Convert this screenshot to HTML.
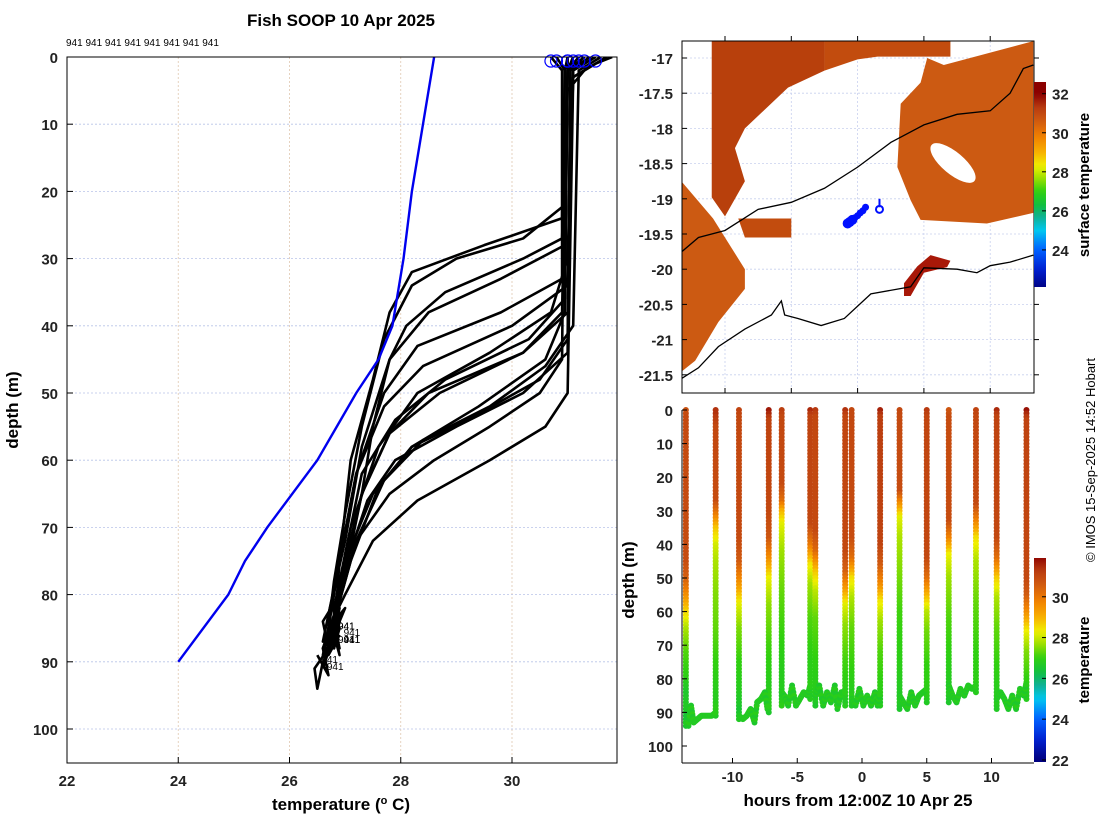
<!DOCTYPE html>
<html><head><meta charset="utf-8">
<style>
html,body{margin:0;padding:0;background:#fff;}
svg{display:block;font-family:"Liberation Sans","DejaVu Sans",sans-serif;}
.tk{font-size:15px;font-weight:bold;fill:#222;}
</style></head>
<body>
<svg id="fig" width="1100" height="820" viewBox="0 0 1100 820"></svg>
<script>
// ---------- DATA ----------
const profileTimes = [-13.6,-11.3,-9.5,-7.2,-6.2,-4.0,-3.6,-1.3,-0.8,1.4,2.9,5.0,6.7,8.8,10.4,12.7];
const profiles = [
 [[0,30.8],[2,30.95],[45,30.9],[50,30.5],[55,29.6],[60,28.6],[65,27.8],[72,27.2],[80,26.9],[84,26.6],[88,26.7],[91,26.45],[94,26.5],[90,26.6]],
 [[91,26.6],[86,26.8],[89,26.9],[85,26.8],[75,27.0],[65,27.3],[55,27.5],[45,27.8],[40,28.1],[35,28.8],[30,30.2],[27,30.9],[5,31.0],[1,31.4]],
 [[0,31.1],[2,31.0],[38,30.95],[45,30.6],[52,29.4],[58,28.2],[65,27.5],[75,27.0],[83,26.8],[88,26.6],[92,26.7],[89,26.5]],
 [[90,26.6],[85,26.9],[88,26.8],[82,26.8],[70,27.1],[58,27.6],[50,28.3],[44,29.6],[38,30.7],[30,31.0],[3,31.1],[1,31.5],[0,31.7]],
 [[0,31.2],[2,31.0],[22,30.95],[27,30.2],[30,29.0],[34,28.2],[42,27.7],[55,27.3],[68,27.0],[78,26.8],[85,26.7],[88,26.9],[84,26.8]],
 [[85,26.7],[82,26.9],[86,26.8],[75,26.9],[62,27.2],[52,27.7],[46,28.4],[40,30.0],[34,31.0],[2,31.1],[0,31.5]],
 [[0,31.3],[2,31.0],[36,30.95],[42,30.3],[48,28.8],[54,27.9],[62,27.3],[74,27.0],[84,26.8],[88,26.6],[85,26.9]],
 [[88,26.8],[83,26.9],[87,26.7],[75,27.1],[64,27.6],[58,28.2],[54,29.2],[48,30.5],[42,31.0],[2,31.05],[0,31.4]],
 [[0,31.0],[2,31.0],[38,30.9],[44,30.2],[50,28.5],[56,27.8],[65,27.3],[77,27.0],[84,26.8],[88,26.7],[86,26.9]],
 [[88,26.8],[84,26.9],[87,26.7],[72,27.2],[63,27.7],[57,28.4],[52,29.6],[46,30.6],[40,31.1],[2,31.2],[0,31.6]],
 [[0,31.0],[2,30.95],[24,30.9],[28,29.5],[32,28.2],[38,27.8],[48,27.5],[60,27.1],[75,26.9],[85,26.7],[89,26.6],[86,26.8]],
 [[87,26.7],[84,26.9],[86,26.8],[76,27.0],[66,27.4],[60,27.9],[55,29.0],[50,30.2],[44,31.0],[2,31.05],[0,31.3]],
 [[0,30.7],[2,30.9],[33,30.9],[38,29.8],[43,28.3],[50,27.7],[62,27.2],[75,26.9],[83,26.7],[87,26.6],[84,26.8]],
 [[84,26.8],[81,26.9],[83,26.7],[72,27.0],[58,27.3],[45,27.8],[38,28.5],[33,29.8],[28,30.95],[2,31.0],[0,31.1]],
 [[0,31.5],[2,31.1],[38,31.0],[44,30.2],[50,28.7],[56,27.8],[65,27.3],[76,27.0],[84,26.8],[89,26.7],[86,26.9]],
 [[86,26.8],[82,27.0],[85,26.7],[80,27.0],[72,27.5],[66,28.3],[60,29.6],[55,30.6],[50,31.0],[3,31.1],[1,31.5],[0,31.8]]
];
const climDepth = [0,5,10,20,30,40,45,50,55,60,70,75,80,90];
const climTemp  = [28.6,28.5,28.4,28.2,28.05,27.85,27.6,27.2,26.85,26.5,25.6,25.2,24.9,24.0];
const bottomTracks = [
 [[-13.6,93],[-13.4,94],[-13.2,88],[-13.0,93],[-12.7,92],[-12.4,91],[-12.0,91],[-11.6,91],[-11.3,90]],
 [[-9.5,91],[-9.2,92],[-8.9,91],[-8.6,89],[-8.3,93],[-8.1,87],[-7.8,86],[-7.5,84],[-7.3,89],[-7.2,88]],
 [[-6.2,84],[-6.0,85],[-5.7,88],[-5.4,82],[-5.1,88],[-4.8,86],[-4.5,84],[-4.2,85],[-4.0,82]],
 [[-3.6,85],[-3.3,82],[-3.0,88],[-2.7,84],[-2.4,87],[-2.1,82],[-1.9,89],[-1.6,84],[-1.3,84]],
 [[-0.8,86],[-0.5,88],[-0.2,83],[0.1,88],[0.4,85],[0.7,88],[1.0,84],[1.2,88],[1.4,84]],
 [[2.9,85],[3.2,87],[3.5,89],[3.8,84],[4.1,88],[4.4,85],[4.7,84],[5.0,83]],
 [[6.7,82],[7.0,85],[7.3,87],[7.6,83],[7.9,85],[8.2,82],[8.5,83],[8.8,82]],
 [[10.4,86],[10.7,84],[11.0,86],[11.3,89],[11.6,85],[11.9,89],[12.2,83],[12.5,85],[12.7,81]]
];
const bottomTemp = 26.7;
const shelfContour = [[115.35,-19.75],[115.6,-19.55],[116,-19.45],[116.5,-19.15],[117,-19.05],[117.5,-18.85],[118,-18.55],[118.5,-18.2],[119,-17.95],[119.5,-17.8],[120,-17.75],[120.3,-17.5],[120.5,-17.15],[120.65,-17.1]];
const coastLine = [[115.35,-21.55],[115.6,-21.4],[115.9,-21.1],[116.3,-20.85],[116.7,-20.65],[116.85,-20.45],[116.9,-20.65],[117.1,-20.7],[117.45,-20.8],[117.8,-20.7],[118.2,-20.35],[118.8,-20.25],[119.0,-19.98],[119.5,-20.0],[119.8,-20.05],[120.0,-19.95],[120.3,-19.9],[120.65,-19.8]];
const shipLon = [117.85,117.88,117.92,117.96,118.0,118.04,118.08,118.12];
const shipLat = [-19.35,-19.33,-19.3,-19.27,-19.24,-19.2,-19.17,-19.12];
const sstPatches = [
 {c:"#b8400c",p:[[115.8,-16.76],[117.5,-16.76],[117.5,-17.18],[116.95,-17.42],[116.3,-18.0],[116.15,-18.28],[116.3,-18.75],[116.0,-19.25],[115.8,-18.98]]},
 {c:"#c24c0e",p:[[117.5,-16.76],[119.4,-16.76],[119.4,-16.98],[118.3,-16.98],[118.0,-17.02],[117.5,-17.18]]},
 {c:"#cc5a12",p:[[119.3,-17.1],[120.65,-16.76],[120.65,-19.2],[119.95,-19.35],[118.95,-19.3],[118.8,-19.02],[118.6,-18.55],[118.65,-17.65],[118.95,-17.35],[119.05,-17.0]]},
 {c:"#cc5a12",p:[[115.35,-18.76],[115.82,-19.28],[116.3,-20.0],[116.3,-20.28],[115.9,-20.75],[115.55,-21.3],[115.35,-21.45]]},
 {c:"#c24c0e",p:[[116.2,-19.28],[117.0,-19.28],[117.0,-19.55],[116.3,-19.55]]},
 {c:"#a81808",p:[[118.7,-20.2],[118.9,-19.96],[119.1,-19.8],[119.4,-19.88],[119.35,-19.97],[119.0,-20.05],[118.8,-20.38],[118.7,-20.38]]}
];

// ---------- HELPERS ----------
const S="http://www.w3.org/2000/svg", svg=document.getElementById('fig');
function mk(tag,attrs,parent){const e=document.createElementNS(S,tag);for(const k in attrs)e.setAttribute(k,attrs[k]);(parent||svg).appendChild(e);return e;}
function txt(s,x,y,attrs,parent){const e=mk('text',Object.assign({x:x,y:y},attrs||{}),parent);e.textContent=s;return e;}
const cstops=[[22,[0,0,127]],[23,[0,32,208]],[24,[0,96,255]],[25,[0,200,240]],[25.7,[16,176,144]],[26.3,[16,192,64]],[27,[48,208,16]],[27.7,[160,224,0]],[28.3,[240,240,0]],[29,[248,176,0]],[29.8,[240,128,0]],[30.6,[208,90,16]],[31.3,[184,58,16]],[32,[139,0,0]]];
function cmap(v){if(v<=cstops[0][0])return 'rgb('+cstops[0][1]+')';for(let i=1;i<cstops.length;i++){if(v<=cstops[i][0]){const a=cstops[i-1],b=cstops[i],f=(v-a[0])/(b[0]-a[0]);return 'rgb('+a[1].map((c,j)=>Math.round(c+f*(b[1][j]-c))).join(',')+')';}}return 'rgb('+cstops[cstops.length-1][1]+')';}
function tempAt(prof,d){
 const s=prof.slice().sort((a,b)=>a[0]-b[0]);
 if(d<=s[0][0])return s[0][1];
 for(let i=1;i<s.length;i++){if(d<=s[i][0]){const f=(d-s[i-1][0])/(s[i][0]-s[i-1][0]||1);return s[i-1][1]+f*(s[i][1]-s[i-1][1]);}}
 return s[s.length-1][1];}
const defs=mk('defs',{});

// ---------- LEFT PANEL ----------
const L={x0:67,x1:617,y0:57,y1:763};
const lx=t=>L.x0+(t-22)*(512-67)/8, ly=d=>L.y0+d*(729-57)/100;
const lg=mk('g',{});


const lt=txt('Fish SOOP 10 Apr 2025',341,26,{'text-anchor':'middle','font-size':'17','font-weight':'bold'},lg);


const top941=txt('941 941 941 941 941 941 941 941',66,46,{'font-size':'10'},lg);


for(let t=22;t<=30;t+=2){mk('line',{x1:lx(t),x2:lx(t),y1:L.y0,y2:L.y1,stroke:'#e0c8b0','stroke-width':0.8,'stroke-dasharray':'2,2'},lg);
 const e=txt(String(t),lx(t),786,{'text-anchor':'middle',class:'tk'},lg);
 mk('line',{x1:lx(t),x2:lx(t),y1:L.y1,y2:L.y1-6,stroke:'#000'},lg);}
for(let d=0;d<=100;d+=10){mk('line',{x1:L.x0,x2:L.x1,y1:ly(d),y2:ly(d),stroke:'#b8c4e8','stroke-width':0.8,'stroke-dasharray':'2,2'},lg);
 const e=txt(String(d),58,ly(d)+6,{'text-anchor':'end',class:'tk'},lg);
 mk('line',{x1:L.x0,x2:L.x0+6,y1:ly(d),y2:ly(d),stroke:'#000'},lg);}
const clip=mk('clipPath',{id:'lclip'},defs);mk('rect',{x:L.x0,y:L.y0,width:L.x1-L.x0,height:L.y1-L.y0},clip);
const pg=mk('g',{'clip-path':'url(#lclip)'},lg);
profiles.forEach((p,i)=>{const e=mk('polyline',{points:p.map(q=>lx(q[1])+','+ly(q[0])).join(' '),fill:'none',stroke:'#000','stroke-width':2.6,'stroke-linejoin':'round'},pg);
 });
const cl=mk('polyline',{points:climDepth.map((d,i)=>lx(climTemp[i])+','+ly(d)).join(' '),fill:'none',stroke:'#0000ee','stroke-width':2.4},pg);


profiles.forEach((p,i)=>{if(i%2)return;const s=p.find(q=>q[0]===0);const c=mk('circle',{cx:lx(s[1]),cy:ly(0.6),r:6,fill:'none',stroke:'#0000ff','stroke-width':1.2},lg);
 
 const b=p[p.length-1];const tl=txt('941',lx(b[1])+4,ly(b[0])+8,{'font-size':'10'},lg);});
mk('rect',{x:L.x0,y:L.y0,width:L.x1-L.x0,height:L.y1-L.y0,fill:'none',stroke:'#000','stroke-width':1},lg);
const ylab=txt('depth (m)',0,0,{transform:'translate(18,410) rotate(-90)','text-anchor':'middle','font-size':'17','font-weight':'bold'},lg);

const xlab=mk('text',{x:341,y:810,'text-anchor':'middle','font-size':'17','font-weight':'bold'},lg);
xlab.innerHTML='temperature (<tspan dy="-6" font-size="11">o</tspan><tspan dy="6"> C)</tspan>';


// ---------- MAP PANEL ----------
const M={x0:682,x1:1034,y0:41,y1:393};
const mx=lo=>725+(lo-116)*66.3, my=la=>58+(-17-la)*70.4;
const mg=mk('g',{});


const mclip=mk('clipPath',{id:'mclip'},defs);mk('rect',{x:M.x0,y:M.y0,width:M.x1-M.x0,height:M.y1-M.y0},mclip);
const mgi=mk('g',{'clip-path':'url(#mclip)'},mg);
for(let lo=116;lo<=120;lo++)mk('line',{x1:mx(lo),x2:mx(lo),y1:M.y0,y2:M.y1,stroke:'#c8d0ee','stroke-width':0.8,'stroke-dasharray':'2,2'},mgi);
for(let la=-17;la>=-21.5;la-=0.5)mk('line',{x1:M.x0,x2:M.x1,y1:my(la),y2:my(la),stroke:'#c8d0ee','stroke-width':0.8,'stroke-dasharray':'2,2'},mgi);
sstPatches.forEach(pp=>{const e=mk('polygon',{points:pp.p.map(q=>mx(q[0])+','+my(q[1])).join(' '),fill:pp.c},mgi);});
mk('ellipse',{cx:953,cy:163,rx:28,ry:11,transform:'rotate(40 953 163)',fill:'#fff'},mgi);
[shelfContour,coastLine].forEach((ln,i)=>{const e=mk('polyline',{points:ln.map(q=>mx(q[0])+','+my(q[1])).join(' '),fill:'none',stroke:'#000','stroke-width':1.3},mgi);
 });
shipLon.forEach((lo,i)=>{const c=mk('circle',{cx:mx(lo),cy:my(shipLat[i]),r:i<3?5:3.5,fill:'#0010ff'},mgi);});
const sm=mk('circle',{cx:mx(118.33),cy:my(-19.15),r:3.5,fill:'none',stroke:'#0010ff','stroke-width':2},mgi);

mk('line',{x1:mx(118.33),x2:mx(118.33),y1:my(-19.0),y2:my(-19.12),stroke:'#0010ff','stroke-width':2},mgi);
mk('rect',{x:M.x0,y:M.y0,width:M.x1-M.x0,height:M.y1-M.y0,fill:'none',stroke:'#000'},mg);
[-17,-17.5,-18,-18.5,-19,-19.5,-20,-20.5,-21,-21.5].forEach(la=>{const e=txt(String(la),673,my(la)+6,{'text-anchor':'end',class:'tk'},mg);
 mk('line',{x1:M.x0,x2:M.x0+5,y1:my(la),y2:my(la),stroke:'#000'},mg);mk('line',{x1:M.x1,x2:M.x1+5,y1:my(la),y2:my(la),stroke:'#000'},mg);});
for(let lo=116;lo<=120;lo++){const e=txt(String(lo),mx(lo),422,{'text-anchor':'middle',class:'tk'},mg);
 mk('line',{x1:mx(lo),x2:mx(lo),y1:M.y1,y2:M.y1-5,stroke:'#000'},mg);mk('line',{x1:mx(lo),x2:mx(lo),y1:M.y0,y2:M.y0-5,stroke:'#000'},mg);}
function cbar(x,y0,y1,vTop,vBot,ticks,label,name,labY){
 const gid='g'+name;const gr=mk('linearGradient',{id:gid,x1:0,y1:0,x2:0,y2:1},defs);
 for(let k=0;k<=40;k++){const v=vTop+(vBot-vTop)*k/40;mk('stop',{offset:k/40,'stop-color':cmap(v)},gr);}
 const g=mk('g',{});
 mk('rect',{x:x,y:y0,width:12,height:y1-y0,fill:'url(#'+gid+')'},g);
 const py=v=>y0+(vTop-v)/(vTop-vBot)*(y1-y0);
 ticks.forEach(v=>{mk('line',{x1:x+12,x2:x+8,y1:py(v),y2:py(v),stroke:'#000'},g);const e=txt(String(v),x+18,py(v)+6,{class:'tk'},g);});
 const l=txt(label,0,0,{transform:'translate(1089,'+labY+') rotate(-90)','text-anchor':'middle','font-size':'15','font-weight':'bold'},g);
 }
cbar(1034,82,287,32.6,22.1,[24,26,28,30,32],'surface temperature','sst-colorbar',185);

// ---------- BOTTOM PANEL ----------
mk('rect',{x:676,y:409,width:360,height:411,fill:'#fff'});
const B={x0:682,x1:1034,y0:410,y1:763};
const bx=h=>862+h*12.95, by=d=>410+d*3.36;
const bg=mk('g',{});


const bclip=mk('clipPath',{id:'bclip'},defs);mk('rect',{x:B.x0,y:B.y0-4,width:B.x1-B.x0,height:B.y1-B.y0+4},bclip);
const bgi=mk('g',{'clip-path':'url(#bclip)'},bg);
profiles.forEach((p,i)=>{const t=profileTimes[i];const maxd=Math.max(...p.map(q=>q[0]));
 for(let d=0;d<=maxd;d+=1){const c=mk('circle',{cx:bx(t),cy:by(d),r:3,fill:cmap(tempAt(p,d))},bgi);}});
bottomTracks.forEach(tr=>{for(let i=1;i<tr.length;i++){const a=tr[i-1],b=tr[i];for(let k=0;k<6;k++){const f=k/6;
 const c=mk('circle',{cx:bx(a[0]+f*(b[0]-a[0])),cy:by(a[1]+f*(b[1]-a[1])),r:3,fill:cmap(bottomTemp+(k%2?0.15:-0.1))},bgi);}}});
mk('line',{x1:B.x0,x2:B.x0,y1:B.y0,y2:B.y1,stroke:'#000'},bg);
mk('line',{x1:B.x0,x2:B.x1,y1:B.y1,y2:B.y1,stroke:'#000'},bg);
for(let d=0;d<=100;d+=10){const e=txt(String(d),673,by(d)+6,{'text-anchor':'end',class:'tk'},bg);
 mk('line',{x1:B.x0,x2:B.x0+5,y1:by(d),y2:by(d),stroke:'#000'},bg);}
for(let h=-10;h<=10;h+=5){const e=txt(String(h),bx(h),782,{'text-anchor':'middle',class:'tk'},bg);
 mk('line',{x1:bx(h),x2:bx(h),y1:B.y1,y2:B.y1-5,stroke:'#000'},bg);}
const bxl=txt('hours from 12:00Z 10 Apr 25',858,806,{'text-anchor':'middle','font-size':'17','font-weight':'bold'},bg);

const byl=txt('depth (m)',0,0,{transform:'translate(634,580) rotate(-90)','text-anchor':'middle','font-size':'17','font-weight':'bold'},bg);

cbar(1034,558,762,31.9,21.9,[22,24,26,28,30],'temperature','temperature-colorbar',660);

const cp=txt('© IMOS 15-Sep-2025 14:52 Hobart',0,0,{transform:'translate(1095,460) rotate(-90)','text-anchor':'middle','font-size':'13'});

</script>
</body></html>
